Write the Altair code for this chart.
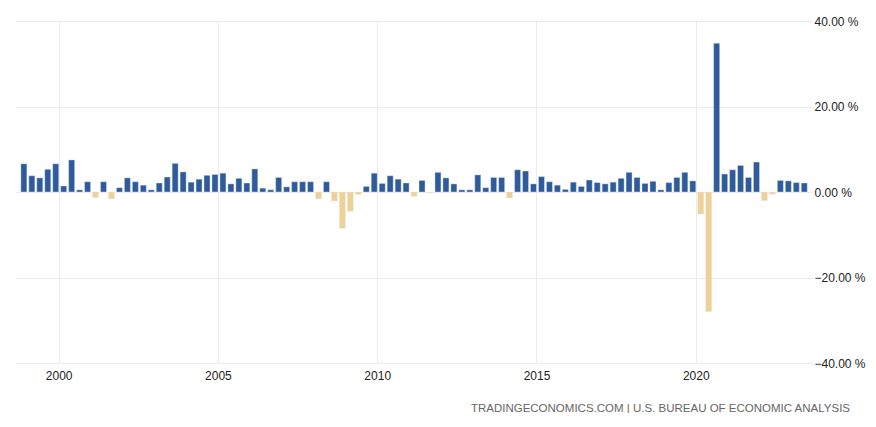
import altair as alt
import numpy as np
import pandas as pd

# US GDP growth rate, quarter on quarter, annualized (%)
values = [
    6.6,
    3.8, 3.3, 5.3, 6.6,
    1.4, 7.5, 0.5, 2.4,
    -1.3, 2.4, -1.6, 1.0,
    3.3, 2.4, 1.6, 0.5,
    2.1, 3.5, 6.7, 4.7,
    2.3, 3.0, 3.9, 4.1,
    4.4, 1.9, 3.2, 2.1,
    5.4, 0.9, 0.5, 3.4,
    1.2, 2.4, 2.4, 2.4,
    -1.6, 2.4, -2.1, -8.5,
    -4.5, -0.6, 1.3, 4.4,
    2.0, 3.8, 3.0, 2.1,
    -1.0, 2.7, -0.2, 4.6,
    3.3, 1.9, 0.5, 0.5,
    4.0, 1.0, 3.4, 3.4,
    -1.4, 5.2, 4.9, 1.9,
    3.6, 2.4, 1.6, 0.6,
    2.3, 1.3, 2.8, 2.2,
    1.9, 2.3, 3.2, 4.6,
    3.4, 2.0, 2.5, 0.5,
    2.2, 3.4, 4.6, 2.6,
    -5.2, -28.0, 34.8, 4.2,
    5.2, 6.2, 3.4, 7.0,
    -2.0, -0.5, 2.7, 2.6,
    2.2, 2.1,
]
quarters = [str(p) for p in pd.period_range("1998Q4", periods=len(values), freq="Q")]
x_ticks = [2000, 2005, 2010, 2015, 2020]
y_ticks = [-40, -20, 0, 20, 40]
source_text = "TRADINGECONOMICS.COM | U.S. BUREAU OF ECONOMIC ANALYSIS"

df = pd.DataFrame({"quarter": quarters, "growth": values})
df["t"] = (df["quarter"].str[:4].astype(int)
           + (df["quarter"].str[-1].astype(int) - 1) / 4 + 0.157)
df["sign"] = np.where(df["growth"] >= 0, "pos", "neg")

W, H = 796, 342

bars = alt.Chart(df).mark_bar(size=6, stroke="#e4ebf3", strokeWidth=0.4).encode(
    x=alt.X("t:Q",
            scale=alt.Scale(domain=[1998.66, 2023.65], nice=False, zero=False,
                            padding=0),
            axis=alt.Axis(values=x_ticks, format="d", title=None, domain=False,
                          ticks=False, labelPadding=7, grid=True,
                          gridColor="#ececec", gridWidth=1)),
    y=alt.Y("growth:Q",
            scale=alt.Scale(domain=[-40, 40], nice=False),
            axis=alt.Axis(orient="right", values=y_ticks, title=None,
                          labelExpr="format(datum.value, '.2f') + ' %'",
                          domain=False, ticks=False, labelPadding=2,
                          labelAlign="left", grid=True,
                          gridColor="#ececec", gridWidth=1)),
    y2=alt.datum(0),
    color=alt.Color("sign:N",
                    scale=alt.Scale(domain=["pos", "neg"],
                                    range=["#2f5b9b", "#efd197"]),
                    legend=None),
    tooltip=["quarter:N", "growth:Q"],
)

source = alt.Chart(pd.DataFrame({"s": [source_text]})).mark_text(
    align="right", baseline="middle", x=834, y=388,
    font="Liberation Sans", fontSize=11.5, color="#666666",
).encode(text="s:N")

chart = alt.layer(bars, source).properties(
    width=W, height=H,
    autosize=alt.AutoSizeParams(type="none"),
    padding={"left": 8, "top": 13, "right": 56, "bottom": 50},
).configure_view(stroke=None).configure_axis(
    labelFont="Liberation Sans", labelFontSize=12, labelColor="#222222",
)

chart.save("out.html", embed_options={"renderer": "svg", "actions": False})
